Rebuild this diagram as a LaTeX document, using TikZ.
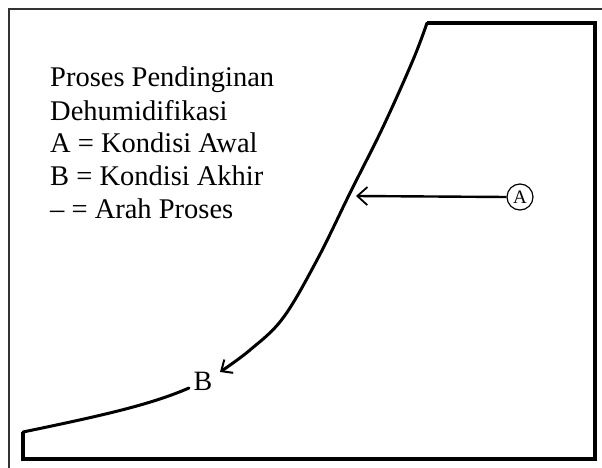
\documentclass[tikz,border=0pt]{standalone}
\usepackage{fontspec}
\setmainfont{Liberation Serif}
\usetikzlibrary{arrows.meta}
\begin{document}
\begin{tikzpicture}[x=1pt,y=-1pt,
  frame/.style={line width=1.8pt,draw=black!80},
  boxline/.style={line width=3.2pt,line join=miter},
  curve/.style={line width=3pt,line cap=round},
  legend/.style={anchor=base west,inner sep=0pt,font=\fontsize{28.5}{33}\selectfont},
  label/.style={inner sep=0pt,font=\fontsize{28}{33}\selectfont},
  barb/.style={-{Straight Barb[length=9pt,width=16pt,line width=2pt]}}]
\useasboundingbox (0,0) rectangle (602,468);
% outer scan frame (top and left)
\draw[frame] (9,468) -- (9,9) -- (602,9);
% inner box
\coordinate (c0) at (23,432);
\coordinate (c1) at (427,23);
\draw[boxline] (c0) -- (23,459) -- (595,459) -- (595,23) -- (c1);
% lower part of the curve (left of B)
\coordinate (b0) at (189,388);
\draw[curve] (c0) .. controls (100,416) and (150,405) .. (b0);
% upper part of the curve, ending with an arrowhead at B
\draw[curve,barb] plot[smooth,tension=0.6] coordinates
  {(427,23) (413,60) (383,127) (350,193) (317,260) (283,318) (250,350) (220,372)};
% labels
\node[label] (B) at (203,381) {B};
\node[draw,circle,line width=1.2pt,minimum size=26pt,inner sep=0pt,font=\fontsize{19}{22}\selectfont] (A) at (520,197) {A};
\coordinate (pA) at (356,196);
\draw[line width=2.4pt,-{Straight Barb[length=10pt,width=18pt,line width=1.8pt]}] (A.west) -- (pA);
% legend
\node[legend] (t1) at (50,87) {Proses Pendinginan};
\node[legend] (t2) at (50,121) {Dehumidifikasi};
\node[legend] (t3) at (50,153) {A = Kondisi Awal};
\node[legend] (t4) at (50,185) {B = Kondisi Akhir};
\node[legend] (t5) at (50,218) {– = Arah Proses};
\end{tikzpicture}
\end{document}
